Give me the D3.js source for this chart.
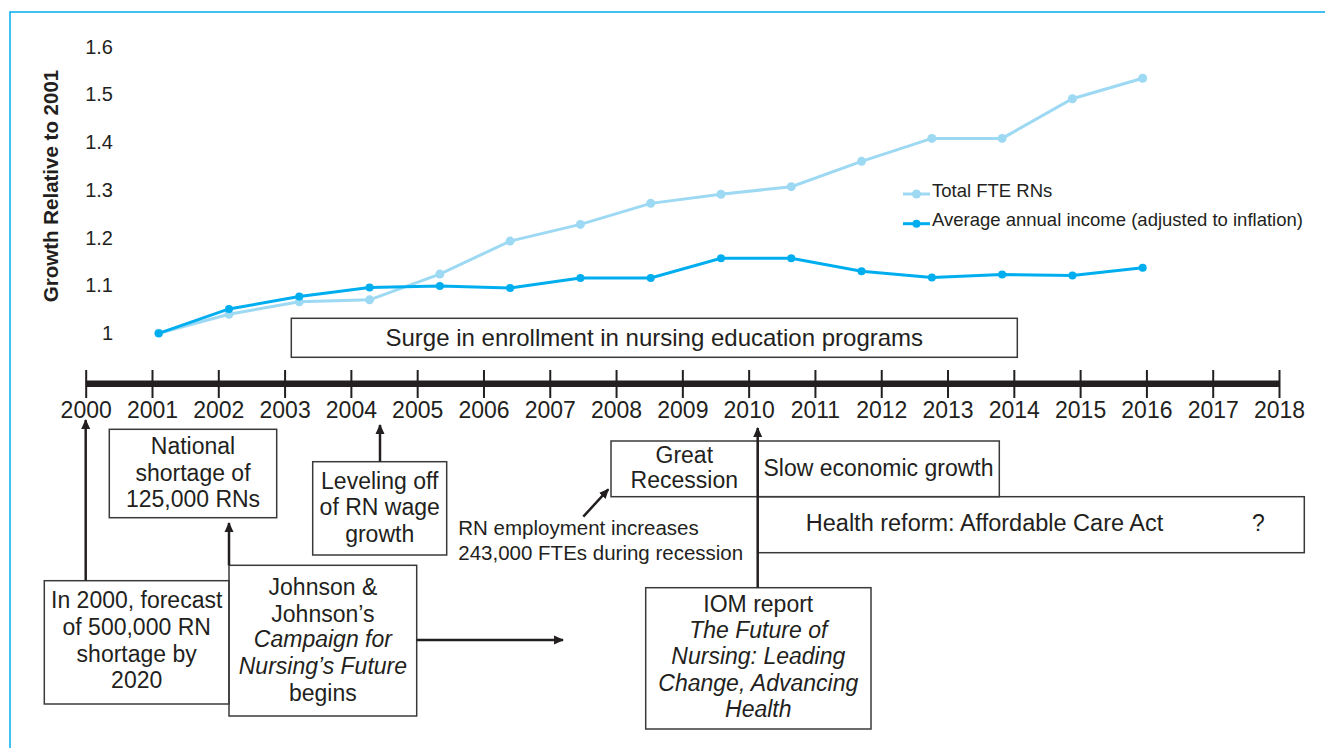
<!DOCTYPE html>
<html>
<head>
<meta charset="utf-8">
<script src="https://cdn.jsdelivr.net/npm/d3@7"></script>
<style>
  body { margin: 0; background: #fff; }
  svg text { font-family: "Liberation Sans", Arial, Helvetica, sans-serif; fill: #231f20; }
</style>
</head>
<body>
<div id="chart"></div>
<script>
// donnees (croissance relative a 2001)
const years = [2001, 2002, 2003, 2004, 2005, 2006, 2007, 2008, 2009, 2010, 2011, 2012, 2013, 2014, 2015];
const totalFteRns = [1.0, 1.04, 1.066, 1.07, 1.124, 1.193, 1.228, 1.272, 1.291, 1.307, 1.36, 1.408, 1.408, 1.491, 1.534];
const avgIncome = [1.0, 1.051, 1.077, 1.096, 1.099, 1.095, 1.116, 1.116, 1.157, 1.157, 1.13, 1.117, 1.123, 1.121, 1.137];
const yTicks = [1, 1.1, 1.2, 1.3, 1.4, 1.5, 1.6];
const seriesNames = ["Total FTE RNs", "Average annual income (adjusted to inflation)"];
const timelineYears = d3.range(2000, 2019);

const width = 1325, height = 748;
const lightBlue = "#9dd9f3", blue = "#00aeef", ink = "#231f20";

const svg = d3.select("#chart")
  .append("svg")
  .attr("width", width)
  .attr("height", height);

svg.append("defs").append("marker")
  .attr("id", "arrow")
  .attr("viewBox", "0 -5 10 10")
  .attr("refX", 9).attr("refY", 0)
  .attr("markerUnits", "userSpaceOnUse")
  .attr("markerWidth", 10).attr("markerHeight", 10)
  .attr("orient", "auto")
  .append("path")
  .attr("d", "M0,-4.5L10,0L0,4.5Z")
  .attr("fill", ink);

// cadre cyan (haut + gauche)
svg.append("path")
  .attr("d", `M10,${height}V12H${width}`)
  .attr("fill", "none")
  .attr("stroke", blue)
  .attr("stroke-width", 1.5);

// ---- graphique en lignes ----
const x = d3.scalePoint().domain(years).range([158.7, 1142.7]);
const y = d3.scaleLinear().domain([1, 1.6]).range([333.3, 46.7]);

const yAxis = svg.append("g")
  .attr("transform", "translate(113,0)")
  .call(d3.axisLeft(y).tickValues(yTicks).tickFormat(d3.format("~g")).tickSize(0).tickPadding(0));
yAxis.select(".domain").remove();
yAxis.selectAll("text")
  .style("font-size", "20px")
  .attr("fill", ink)
  .attr("font-family", "Liberation Sans, Arial, sans-serif");

svg.append("text")
  .attr("transform", "translate(58,186) rotate(-90)")
  .attr("text-anchor", "middle")
  .style("font-size", "20.5px")
  .style("font-weight", "bold")
  .text("Growth Relative to 2001");

const series = [
  { name: seriesNames[0], values: totalFteRns, color: lightBlue, r: 4.5 },
  { name: seriesNames[1], values: avgIncome, color: blue, r: 4 }
];

const line = d3.line()
  .x((d, i) => x(years[i]))
  .y(d => y(d));

series.forEach(s => {
  const g = svg.append("g");
  g.append("path")
    .attr("d", line(s.values))
    .attr("fill", "none")
    .attr("stroke", s.color)
    .attr("stroke-width", 3);
  g.selectAll("circle")
    .data(s.values)
    .join("circle")
    .attr("cx", (d, i) => x(years[i]))
    .attr("cy", d => y(d))
    .attr("r", s.r)
    .attr("fill", s.color);
});

// legende
const legend = svg.append("g").attr("transform", "translate(903,194)");
series.forEach((s, i) => {
  const row = legend.append("g").attr("transform", `translate(0,${i * 29.7})`);
  row.append("line").attr("x1", 0).attr("x2", 27).attr("stroke", s.color).attr("stroke-width", 3);
  row.append("circle").attr("cx", 13.5).attr("r", s.r).attr("fill", s.color);
  row.append("text").attr("x", 29).attr("y", 2.5).style("font-size", "18.5px").text(s.name);
});

// ---- frise chronologique ----
const tx = d3.scaleLinear().domain([2000, 2018]).range([85.7, 1279]);

svg.append("line")
  .attr("x1", tx(2000)).attr("x2", tx(2018))
  .attr("y1", 383.7).attr("y2", 383.7)
  .attr("stroke", ink)
  .attr("stroke-width", 6.5);

const timeAxis = svg.append("g")
  .attr("transform", "translate(0,370)")
  .call(d3.axisBottom(tx).tickValues(timelineYears).tickFormat(d3.format("d")).tickSize(28).tickPadding(4));
timeAxis.select(".domain").remove();
timeAxis.selectAll(".tick line").attr("stroke", ink).attr("stroke-width", 2);
timeAxis.selectAll("text")
  .style("font-size", "23px")
  .attr("fill", ink)
  .attr("font-family", "Liberation Sans, Arial, sans-serif");

// boites d'annotation
const boxes = [
  { x: 291.3, y: 318.3, w: 726, h: 39, cx: 654.3, fs: 24, lines: [["Surge in enrollment in nursing education programs", 345.5]] },
  { x: 109.3, y: 429.3, w: 167.4, h: 88.4, cx: 193, lines: [["National", 454], ["shortage of", 480.7], ["125,000 RNs", 506.7]] },
  { x: 312.7, y: 461.7, w: 134, h: 93.3, cx: 379.7, lines: [["Leveling off", 488.7], ["of RN wage", 515], ["growth", 541.7]] },
  { x: 44.3, y: 580.7, w: 184.7, h: 123.3, cx: 136.7, lines: [["In 2000, forecast", 608.3], ["of 500,000 RN", 635], ["shortage by", 661.7], ["2020", 688.3]] },
  { x: 229, y: 565.3, w: 187.7, h: 150.7, cx: 322.9, lines: [["Johnson &", 595], ["Johnson\u2019s", 621.7], ["Campaign for", 647.3, true], ["Nursing\u2019s Future", 674, true], ["begins", 700.7]] },
  { x: 611, y: 441, w: 146.7, h: 55.7, cx: 684.3, lines: [["Great", 462.7], ["Recession", 488.3]] },
  { x: 757.7, y: 441, w: 241.6, h: 55.7, cx: 878.5, lines: [["Slow economic growth", 476]] },
  { x: 757.7, y: 496.7, w: 546.6, h: 56, cx: 984.5, fs: 23.5, lines: [["Health reform: Affordable Care Act", 531]] },
  { x: 645.7, y: 587.7, w: 225.3, h: 141.3, cx: 758.3, lines: [["IOM report", 611.7], ["The Future of", 638.3, true], ["Nursing: Leading", 664.3, true], ["Change, Advancing", 691, true], ["Health", 717.3, true]] }
];

const boxG = svg.append("g");
boxes.forEach(b => {
  boxG.append("rect")
    .attr("x", b.x).attr("y", b.y)
    .attr("width", b.w).attr("height", b.h)
    .attr("fill", "none")
    .attr("stroke", "#3a3a3a")
    .attr("stroke-width", 1.5);
  b.lines.forEach(([t, by, it]) => {
    boxG.append("text")
      .attr("x", b.cx).attr("y", by)
      .attr("text-anchor", "middle")
      .style("font-size", `${b.fs || 23}px`)
      .style("font-style", it ? "italic" : "normal")
      .text(t);
  });
});

boxG.append("text")
  .attr("x", 1258.3).attr("y", 531)
  .attr("text-anchor", "middle")
  .style("font-size", "23px")
  .text("?");

// texte libre
const note = svg.append("text").style("font-size", "20.5px");
note.append("tspan").attr("x", 458.3).attr("y", 535).text("RN employment increases");
note.append("tspan").attr("x", 458.3).attr("y", 559.5).text("243,000 FTEs during recession");

// fleches
const arrows = [
  [tx(2000), 580.7, tx(2000), 420],
  [229, 565.3, 229, 523],
  [380, 461.7, 380, 425],
  [757.7, 587.7, 757.7, 428],
  [416.7, 640, 563, 640],
  [583.3, 516.7, 608.3, 489.3]
];

svg.append("g")
  .selectAll("line")
  .data(arrows)
  .join("line")
  .attr("x1", d => d[0]).attr("y1", d => d[1])
  .attr("x2", d => d[2]).attr("y2", d => d[3])
  .attr("stroke", ink)
  .attr("stroke-width", 2.5)
  .attr("marker-end", "url(#arrow)");
</script>
</body>
</html>
